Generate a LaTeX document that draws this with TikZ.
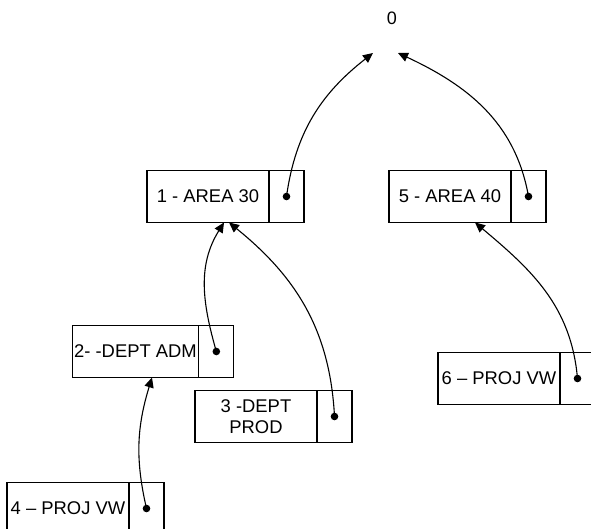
\documentclass[tikz,border=0pt]{standalone}
\usepackage{fontspec}
\setmainfont{Liberation Sans}
\usetikzlibrary{positioning, arrows.meta, calc}

\begin{document}
\begin{tikzpicture}
    [
        x=0.5pt, y=0.5pt,
        node distance=0pt,
        field/.style={draw, rectangle, minimum height=26pt, minimum width=61pt, inner sep=1pt, outer sep=0pt, line width=0.6pt, align=center, font=\fontsize{9.2}{10.5}\selectfont},
        link/.style={draw, rectangle, minimum height=26pt, minimum width=17.5pt, outer sep=0pt, line width=0.6pt},
        dot/.style={circle, fill, inner sep=0pt, minimum size=3.8pt},
        ptr/.style={-{Triangle[length=5pt, width=4.6pt]}, line width=0.55pt}
    ]
        \useasboundingbox (0,0) rectangle (591,529);
        % =========================================================================
        % NODES
        % =========================================================================
        % --- Root ---
        \node [font=\fontsize{9}{10.5}\selectfont] (root) at (392, 511) {0};
        % --- Row 1 ---
        \node [field] (area30) at (208, 332.5) {1 - AREA 30};
        \node [link, right=of area30] (p30) {};
        \node [field] (area40) at (450, 332.5) {5 - AREA 40};
        \node [link, right=of area40] (p40) {};
        % --- Row 2 ---
        \node [field] (adm) at (135.5, 177.5) {2- -DEPT ADM};
        \node [link, right=of adm] (padm) {};
        \node [field] (vw6) at (499, 150.5) {6 \textendash{} PROJ VW};
        \node [link, right=of vw6] (pvw6) {};
        \node [field] (prod) at (256, 112.5) {3 -DEPT\\PROD};
        \node [link, right=of prod] (pprod) {};
        % --- Row 3 ---
        \node [field] (vw4) at (68, 20.5) {4 \textendash{} PROJ VW};
        \node [link, right=of vw4] (pvw4) {};
        % --- Dots ---
        \node [dot] (d30) at (p30) {};
        \node [dot] (d40) at (p40) {};
        \node [dot] (dadm) at (padm) {};
        \node [dot] (dvw6) at (pvw6) {};
        \node [dot] (dprod) at (pprod) {};
        \node [dot] (dvw4) at (pvw4) {};

        % =========================================================================
        % PATHS
        % =========================================================================
        % --- To root ---
        \draw [ptr] (d30.center) to [out=82, in=218] ($(root)+(-19,-35)$);
        \draw [ptr] (d40.center) to [out=100, in=-25] ($(root)+(6,-35)$);
        % --- To row 1 ---
        \draw [ptr] (dadm.center) to [out=106, in=238] ($(area30.south)+(16,0)$);
        \draw [ptr] (dprod.center) to [out=93, in=-39] ($(area30.south)+(21,0)$);
        \draw [ptr] (dvw6.center) to [out=95, in=-40] ($(area40.south)+(25,0)$);
        % --- To row 2 ---
        \draw [ptr] (dvw4.center) to [out=103, in=253] ($(adm.south)+(16.5,0)$);

    \end{tikzpicture}
\end{document}
